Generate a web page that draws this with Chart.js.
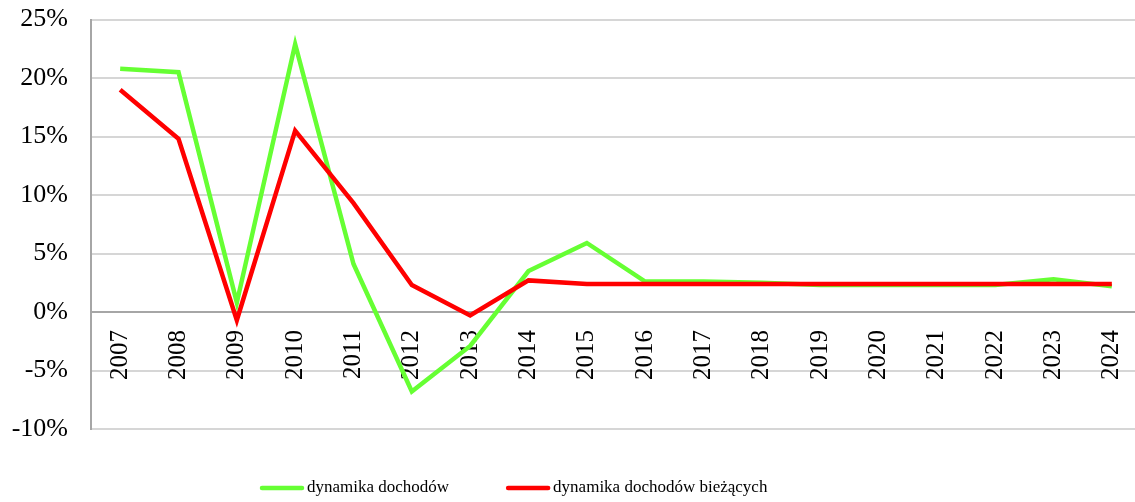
<!DOCTYPE html>
<html>
<head>
<meta charset="utf-8">
<script src="https://cdn.jsdelivr.net/npm/chart.js@4/dist/chart.umd.min.js"></script>
<style>
html, body { margin: 0; padding: 0; overflow: hidden; background: #fff; }
#wrap { position: relative; width: 1141px; height: 502px; }
</style>
</head>
<body>
<div id="wrap"><canvas id="c"></canvas></div>
<script>
const years = ['2007','2008','2009','2010','2011','2012','2013','2014','2015','2016','2017','2018','2019','2020','2021','2022','2023','2024'];
const dynamikaDochodow = [20.8, 20.5, 0.8, 22.9, 4.1, -6.8, -2.9, 3.5, 5.9, 2.6, 2.6, 2.5, 2.3, 2.3, 2.3, 2.3, 2.8, 2.2];
const dynamikaDochodowBiezacych = [19.0, 14.8, -0.7, 15.5, 9.3, 2.3, -0.3, 2.7, 2.4, 2.4, 2.4, 2.4, 2.4, 2.4, 2.4, 2.4, 2.4, 2.4];
const seriesLabels = ['dynamika dochodów', 'dynamika dochodów bieżących'];
const seriesColors = ['#66ff33', '#ff0000'];
const yMin = -10, yMax = 25, yStep = 5;

const serif = "'Liberation Serif', 'Times New Roman', serif";

const customLegend = {
  id: 'customLegend',
  afterDraw(chart, args, opts) {
    const ctx = chart.ctx;
    ctx.save();
    ctx.font = opts.fontSize + 'px ' + serif;
    ctx.textBaseline = 'middle';
    ctx.textAlign = 'left';
    let x = opts.startX;
    const y = opts.y;
    chart.data.datasets.forEach(ds => {
      ctx.strokeStyle = ds.borderColor;
      ctx.lineWidth = 4.5;
      ctx.lineCap = 'round';
      ctx.beginPath();
      ctx.moveTo(x, y);
      ctx.lineTo(x + opts.lineLen, y);
      ctx.stroke();
      x += opts.lineLen + opts.gap;
      ctx.fillStyle = '#000';
      ctx.fillText(ds.label, x, y);
      x += ctx.measureText(ds.label).width + opts.itemGap;
    });
    ctx.restore();
  }
};

function zeroPadding(scale) {
  scale.paddingTop = 0;
  scale.paddingBottom = 0;
  scale.paddingLeft = 0;
  scale.paddingRight = 0;
}

new Chart(document.getElementById('c'), {
  type: 'line',
  data: {
    labels: years,
    datasets: [
      { label: seriesLabels[0], data: dynamikaDochodow, borderColor: seriesColors[0], backgroundColor: seriesColors[0], borderWidth: 4.5, pointRadius: 0, tension: 0, order: 1 },
      { label: seriesLabels[1], data: dynamikaDochodowBiezacych, borderColor: seriesColors[1], backgroundColor: seriesColors[1], borderWidth: 4.5, pointRadius: 0, tension: 0, order: 0 }
    ]
  },
  options: {
    responsive: true,
    maintainAspectRatio: false,
    animation: false,
    layout: { padding: { top: 19.5, right: 0, bottom: 73, left: 0 } },
    plugins: {
      legend: { display: false },
      tooltip: { enabled: false },
      customLegend: { startX: 262, y: 488, lineLen: 40, gap: 5, itemGap: 59, fontSize: 17 }
    },
    scales: {
      x: {
        type: 'category',
        offset: true,
        position: { y: 0 },
        afterFit: zeroPadding,
        grid: { display: false, drawTicks: false },
        border: { display: true, color: '#a6a6a6', width: 2 },
        ticks: { minRotation: 90, maxRotation: 90, padding: 18, color: '#000', font: { family: serif, size: 25 } }
      },
      y: {
        min: yMin,
        max: yMax,
        afterFit(scale) { scale.width = 91; zeroPadding(scale); },
        grid: {
          drawTicks: false,
          lineWidth: 2,
          color: c => (c.tick && c.tick.value === 0) ? '#a6a6a6' : '#d6d6d6'
        },
        border: { display: true, color: '#a6a6a6', width: 2 },
        ticks: {
          stepSize: yStep,
          padding: 23,
          color: '#000',
          font: { family: serif, size: 26 },
          callback: v => v + '%'
        }
      }
    }
  },
  plugins: [customLegend]
});
</script>
</body>
</html>
